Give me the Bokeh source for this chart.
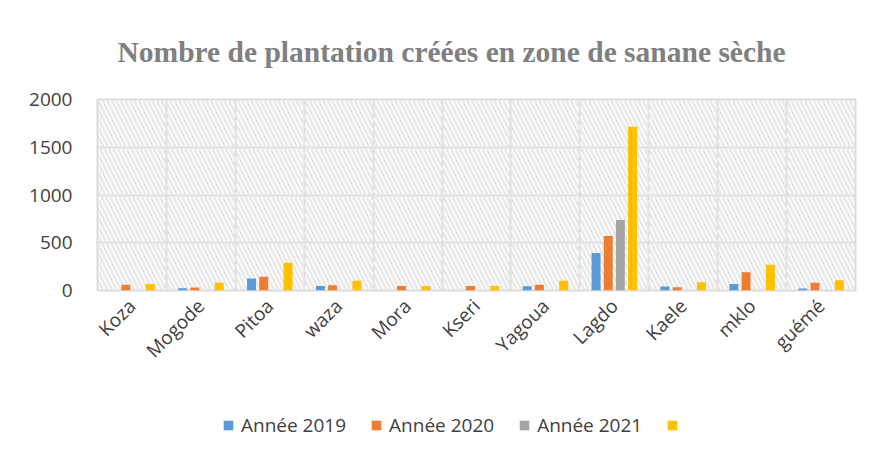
import numpy as np
from bokeh.plotting import figure
from bokeh.layouts import column
from bokeh.models import (ColumnDataSource, Range1d, FixedTicker, BoxAnnotation,
                          Legend, LegendItem)
from bokeh.transform import dodge
from bokeh.embed import file_html
from bokeh.resources import INLINE

categories = ["Koza", "Mogode", "Pitoa", "waza", "Mora", "Kseri", "Yagoua",
              "Lagdo", "Kaele", "mklo", "guémé"]
annee_2019 = [0, 24, 126, 48, 0, 0, 45, 392, 42, 69, 21]
annee_2020 = [59, 31, 143, 56, 48, 48, 59, 570, 35, 192, 80]
annee_2021 = [0, 0, 0, 0, 0, 0, 0, 738, 0, 0, 0]
serie_4 = [69, 80, 290, 101, 48, 48, 101, 1715, 87, 269, 108]
series_labels = ["Année 2019", "Année 2020", "Année 2021", " "]
y_ticks = [0, 500, 1000, 1500, 2000]

colors = ["#5B9BD5", "#ED7D31", "#A5A5A5", "#FFC000"]
FONT = "Open Sans"
TEXT = "#404040"
GRID = "#d9d9d9"

x_pos = [i + 0.5 for i in range(len(categories))]
src = ColumnDataSource(dict(x=x_pos, a=annee_2019, b=annee_2020, c=annee_2021, d=serie_4))

p = figure(width=861, height=380, output_backend="svg", toolbar_location=None,
           x_range=Range1d(0, len(categories)), y_range=Range1d(0, 2000),
           min_border_left=97, min_border_right=6, min_border_top=99, min_border_bottom=90)

p.title.text = "Nombre de plantation créées en zone de sanane sèche"
p.title.text_font = "Liberation Serif"
p.title.text_font_style = "bold"
p.title.text_font_size = "29.5px"
p.title.text_color = "#808080"
p.title.align = "left"
p.title.offset = 20
p.title.standoff = 64

# hatched background
p.add_layout(BoxAnnotation(fill_alpha=0, line_alpha=0, hatch_pattern="\\",
                           hatch_color="#e8e8e8", hatch_scale=9, hatch_weight=2.5,
                           level="underlay"))

offsets = [-0.265, -0.088, 0.088, 0.265]
for col, off, c in zip(["a", "b", "c", "d"], offsets, colors):
    p.vbar(x=dodge("x", off), top=col, width=0.13, source=src,
           fill_color=c, line_color=None)

p.outline_line_color = GRID
p.outline_line_width = 2
p.background_fill_color = "white"

# axes
p.xaxis.ticker = FixedTicker(ticks=x_pos)
p.xaxis.major_label_overrides = {x: c for x, c in zip(x_pos, categories)}
p.xaxis.major_label_orientation = np.pi / 4
p.xaxis.axis_line_color = None
p.xaxis.major_tick_line_color = None
p.xaxis.minor_tick_line_color = None
p.xaxis.major_label_text_font = FONT
p.xaxis.major_label_text_font_size = "19px"
p.xaxis.major_label_text_color = TEXT
p.xaxis.major_label_standoff = 6

p.yaxis.ticker = FixedTicker(ticks=y_ticks)
p.yaxis.axis_line_color = None
p.yaxis.major_tick_line_color = None
p.yaxis.minor_tick_line_color = None
p.yaxis.major_label_text_font = FONT
p.yaxis.major_label_text_font_size = "19px"
p.yaxis.major_label_text_color = TEXT
p.yaxis.major_label_standoff = 19

p.xgrid.ticker = FixedTicker(ticks=list(range(len(categories) + 1)))
p.xgrid.grid_line_color = GRID
p.xgrid.grid_line_width = 2
p.ygrid.grid_line_color = GRID
p.ygrid.grid_line_width = 2

# legend strip below the chart (same series, kept out of view; only the legend shows)
lg = figure(width=861, height=60, output_backend="svg", toolbar_location=None,
            x_range=Range1d(0, len(categories)), y_range=Range1d(5000, 6000),
            min_border_left=0, min_border_right=0, min_border_top=0, min_border_bottom=0)
lg.axis.visible = False
lg.grid.visible = False
lg.outline_line_color = None
leg_renderers = [lg.vbar(x="x", top=col, width=0.13, source=src,
                         fill_color=c, line_color=None)
                 for col, c in zip(["a", "b", "c", "d"], colors)]
legend = Legend(items=[LegendItem(label=l, renderers=[r]) for l, r in zip(series_labels, leg_renderers)],
                orientation="horizontal", location=(125, 2), margin=0,
                padding=0, glyph_width=12, glyph_height=12, label_standoff=7, spacing=24,
                label_text_font=FONT, label_text_font_size="19px", label_text_color=TEXT,
                border_line_alpha=0, background_fill_alpha=0)
lg.add_layout(legend, "center")

layout = column(p, lg, spacing=0)
open("out.html", "w").write(file_html(layout, INLINE))
